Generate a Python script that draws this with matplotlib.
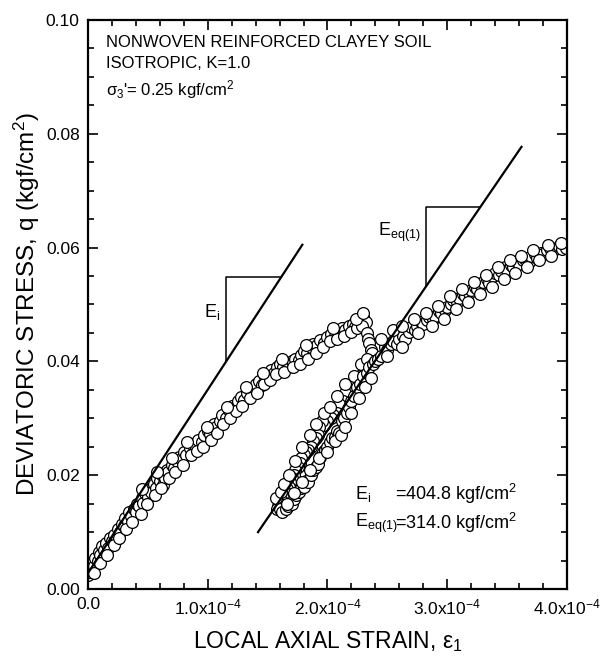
import matplotlib
matplotlib.use("Agg")
import matplotlib.pyplot as plt
from matplotlib.ticker import MultipleLocator, FixedLocator, FixedFormatter

plt.rcParams['font.family'] = ['Liberation Sans', 'DejaVu Sans']
plt.rcParams['mathtext.fontset'] = 'custom'
plt.rcParams['mathtext.rm'] = 'Liberation Sans'
plt.rcParams['mathtext.it'] = 'Liberation Sans'

# strain values are in units of 1e-4
load_x = [0.00, 0.01, 0.02, 0.03, 0.05, 0.06, 0.08, 0.09, 0.10, 0.12, 0.13, 0.15, 0.17, 0.18,
          0.20, 0.22, 0.24, 0.25, 0.27, 0.28, 0.30, 0.31, 0.33, 0.34, 0.36, 0.38, 0.40, 0.41,
          0.43, 0.45, 0.46, 0.48, 0.50, 0.52, 0.53, 0.55, 0.57, 0.58, 0.60, 0.62, 0.63, 0.64,
          0.66, 0.67, 0.70, 0.72, 0.74, 0.76, 0.78, 0.80, 0.82, 0.85, 0.87, 0.90, 0.92, 0.95,
          0.97, 1.00, 1.02, 1.05, 1.07, 1.10, 1.12, 1.15, 1.18, 1.20, 1.22, 1.25, 1.28, 1.30,
          1.33, 1.36, 1.38, 1.40, 1.43, 1.45, 1.48, 1.50, 1.53, 1.55, 1.58, 1.60, 1.63, 1.66,
          1.68, 1.70, 1.73, 1.76, 1.78, 1.80, 1.83, 1.86, 1.88, 1.91, 1.94, 1.97, 2.00, 2.03,
          2.06, 2.09, 2.12, 2.15, 2.18, 2.21, 2.23, 2.26, 2.28, 2.30, 2.32,
          0.05, 0.10, 0.16, 0.22, 0.26, 0.32, 0.37, 0.44, 0.49, 0.56, 0.61, 0.68, 0.73, 0.79,
          0.86, 0.91, 0.96, 1.03, 1.08, 1.13, 1.19, 1.24, 1.29, 1.35, 1.41, 1.47, 1.52, 1.57,
          1.64, 1.71, 1.77, 1.84, 1.90, 1.96, 2.02, 2.08, 2.14, 2.20, 2.25, 2.29,
          0.45, 0.58, 0.70, 0.83, 0.99, 1.16, 1.32, 1.46, 1.62, 1.82, 2.05, 2.24, 2.30]
load_q = [0.0025, 0.0035, 0.0030, 0.0045, 0.0040, 0.0055, 0.0050, 0.0065, 0.0060, 0.0075, 0.0068,
          0.0080, 0.0072, 0.0090, 0.0085, 0.0095, 0.0088, 0.0105, 0.0100, 0.0115, 0.0110, 0.0125,
          0.0120, 0.0135, 0.0128, 0.0140, 0.0135, 0.0150, 0.0145, 0.0160, 0.0152, 0.0168, 0.0162,
          0.0175, 0.0170, 0.0185, 0.0178, 0.0195, 0.0190, 0.0200, 0.0183, 0.0195, 0.0210, 0.0205,
          0.0218, 0.0212, 0.0225, 0.0232, 0.0228, 0.0240, 0.0236, 0.0248, 0.0255, 0.0250, 0.0262,
          0.0258, 0.0270, 0.0278, 0.0272, 0.0290, 0.0285, 0.0295, 0.0305, 0.0300, 0.0315, 0.0322,
          0.0318, 0.0330, 0.0338, 0.0332, 0.0345, 0.0352, 0.0348, 0.0360, 0.0365, 0.0358, 0.0372,
          0.0378, 0.0385, 0.0380, 0.0390, 0.0395, 0.0390, 0.0398, 0.0392, 0.0400, 0.0405, 0.0402,
          0.0412, 0.0418, 0.0415, 0.0425, 0.0430, 0.0428, 0.0438, 0.0432, 0.0442, 0.0448, 0.0445,
          0.0452, 0.0458, 0.0455, 0.0462, 0.0466, 0.0460, 0.0468, 0.0472, 0.0478, 0.0470,
          0.0028, 0.0045, 0.0060, 0.0078, 0.0090, 0.0105, 0.0118, 0.0132, 0.0150, 0.0165, 0.0178,
          0.0195, 0.0205, 0.0218, 0.0235, 0.0242, 0.0250, 0.0262, 0.0275, 0.0290, 0.0300, 0.0312,
          0.0322, 0.0335, 0.0345, 0.0360, 0.0368, 0.0378, 0.0382, 0.0390, 0.0395, 0.0405, 0.0415,
          0.0425, 0.0435, 0.0440, 0.0445, 0.0452, 0.0458, 0.0462,
          0.0175, 0.0205, 0.0230, 0.0258, 0.0285, 0.0320, 0.0355, 0.0380, 0.0405, 0.0428, 0.0458,
          0.0475, 0.0485]

unload_x = [2.33, 2.34, 2.35, 2.36, 2.37, 2.38, 2.30, 2.27, 2.25, 2.22, 2.20, 2.17, 2.15, 2.13,
            2.10, 2.08, 2.05, 2.03, 2.00, 1.97, 1.95, 1.93, 1.92, 1.90, 1.88, 1.86, 1.84, 1.82,
            1.80, 1.78, 1.77, 1.75, 1.73, 1.72, 1.70, 1.69, 1.68, 1.66, 1.65, 1.63, 1.62, 1.60,
            1.59, 1.58,
            1.57, 1.61, 1.64, 1.68, 1.73, 1.79, 1.85, 1.90, 1.97, 2.02, 2.08, 2.15, 2.22, 2.28,
            2.33]
unload_q = [0.0450, 0.0440, 0.0432, 0.0420, 0.0415, 0.0400, 0.0380, 0.0375, 0.0365, 0.0360,
            0.0355, 0.0340, 0.0345, 0.0330, 0.0325, 0.0310, 0.0305, 0.0300, 0.0295, 0.0288,
            0.0295, 0.0285, 0.0270, 0.0265, 0.0260, 0.0250, 0.0245, 0.0240, 0.0235, 0.0230,
            0.0222, 0.0215, 0.0210, 0.0200, 0.0195, 0.0188, 0.0180, 0.0175, 0.0168, 0.0160,
            0.0155, 0.0150, 0.0145, 0.0140,
            0.0160, 0.0170, 0.0185, 0.0200, 0.0225, 0.0250, 0.0270, 0.0290, 0.0310, 0.0320,
            0.0340, 0.0360, 0.0375, 0.0395, 0.0405]

reload_x = [1.60, 1.62, 1.65, 1.67, 1.70, 1.72, 1.74, 1.76, 1.78, 1.80, 1.82, 1.84, 1.86, 1.88,
            1.90, 1.92, 1.94, 1.96, 1.98, 2.00, 2.02, 2.04, 2.06, 2.08, 2.10, 2.12, 2.14, 2.16,
            2.18, 2.20, 2.22, 2.25, 2.27, 2.30, 2.33, 2.35, 2.38, 2.40, 2.42, 2.45, 2.48, 2.50,
            2.53, 2.55, 2.58, 2.60, 2.63, 2.65, 2.68, 2.70, 2.73, 2.75, 2.78, 2.80, 2.83, 2.85,
            2.88, 2.90, 2.93, 2.95, 2.98, 3.00, 3.03, 3.05, 3.08, 3.10, 3.13, 3.15, 3.18, 3.20,
            3.23, 3.25, 3.28, 3.30, 3.33, 3.35, 3.38, 3.40, 3.43, 3.45, 3.48, 3.50, 3.53, 3.55,
            3.58, 3.60, 3.63, 3.65, 3.68, 3.70, 3.73, 3.75, 3.78, 3.80, 3.83, 3.86, 3.88, 3.90,
            3.93, 3.96, 3.99,
            1.66, 1.72, 1.79, 1.85, 1.93, 2.00, 2.06, 2.11, 2.15, 2.20, 2.26, 2.31, 2.36,
            2.45, 2.55, 2.62, 2.72, 2.82, 2.92, 3.02, 3.12, 3.22, 3.32, 3.42, 3.52, 3.62, 3.72,
            3.84, 3.95,
            2.50, 2.62, 2.76, 2.87, 2.97, 3.07, 3.17, 3.27, 3.37, 3.47, 3.57, 3.67, 3.77, 3.87]
reload_q = [0.0140, 0.0135, 0.0140, 0.0145, 0.0150, 0.0158, 0.0165, 0.0170, 0.0178, 0.0180,
            0.0190, 0.0188, 0.0200, 0.0210, 0.0215, 0.0220, 0.0232, 0.0240, 0.0245, 0.0250,
            0.0258, 0.0265, 0.0268, 0.0278, 0.0275, 0.0295, 0.0300, 0.0310, 0.0320, 0.0330,
            0.0340, 0.0355, 0.0360, 0.0375, 0.0380, 0.0390, 0.0395, 0.0400, 0.0405, 0.0410,
            0.0425, 0.0420, 0.0430, 0.0435, 0.0430, 0.0440, 0.0445, 0.0440, 0.0452, 0.0460,
            0.0455, 0.0462, 0.0470, 0.0465, 0.0472, 0.0478, 0.0475, 0.0480, 0.0488, 0.0485,
            0.0490, 0.0495, 0.0500, 0.0508, 0.0505, 0.0512, 0.0518, 0.0515, 0.0520, 0.0525,
            0.0530, 0.0528, 0.0535, 0.0540, 0.0545, 0.0538, 0.0550, 0.0555, 0.0552, 0.0558,
            0.0565, 0.0560, 0.0570, 0.0565, 0.0575, 0.0572, 0.0578, 0.0580, 0.0575, 0.0585,
            0.0588, 0.0582, 0.0590, 0.0588, 0.0595, 0.0600, 0.0595, 0.0598, 0.0602, 0.0598,
            0.0600,
            0.0150, 0.0168, 0.0188, 0.0210, 0.0230, 0.0240, 0.0260, 0.0270, 0.0285, 0.0310,
            0.0335, 0.0355, 0.0370,
            0.0440, 0.0455, 0.0462, 0.0475, 0.0485, 0.0498, 0.0515, 0.0528, 0.0540, 0.0552,
            0.0565, 0.0578, 0.0585, 0.0595, 0.0605, 0.0608,
            0.0410, 0.0425, 0.0450, 0.0462, 0.0475, 0.0492, 0.0505, 0.0518, 0.0530, 0.0545,
            0.0555, 0.0565, 0.0578, 0.0585]

# modulus lines and slope triangles
ei_line_x = [0.00, 1.79]
ei_line_q = [0.0028, 0.0605]
eeq_line_x = [1.42, 3.62]
eeq_line_q = [0.0100, 0.0777]
ei_tri_x = [1.152, 1.152, 1.612]
ei_tri_q = [0.0400, 0.0548, 0.0548]
eeq_tri_x = [2.823, 2.823, 3.272]
eeq_tri_q = [0.0533, 0.0671, 0.0671]

x_ticks = [0, 1, 2, 3, 4]
x_tick_labels = ['0.0', r'1.0x10$^{-4}$', r'2.0x10$^{-4}$', r'3.0x10$^{-4}$', r'4.0x10$^{-4}$']
y_ticks = [0.00, 0.02, 0.04, 0.06, 0.08, 0.10]

S = 1e-4
fig = plt.figure(figsize=(6.09, 6.57), dpi=100)
ax = fig.add_axes([0.1445, 0.1035, 0.7865, 0.8661])

mk = dict(marker='o', ms=8.5, mfc='white', mec='black', mew=0.9, ls='none', zorder=2)
ax.plot([v * S for v in load_x], load_q, **mk)
ax.plot([v * S for v in unload_x], unload_q, **mk)
ax.plot([v * S for v in reload_x], reload_q, **mk)

lk = dict(color='black', lw=1.6, zorder=3)
ax.plot([v * S for v in ei_line_x], ei_line_q, **lk)
ax.plot([v * S for v in eeq_line_x], eeq_line_q, **lk)
ax.plot([v * S for v in ei_tri_x], ei_tri_q, color='black', lw=1.1, zorder=3)
ax.plot([v * S for v in eeq_tri_x], eeq_tri_q, color='black', lw=1.1, zorder=3)

ax.set_xlim(0, 4e-4)
ax.set_ylim(0, 0.10)
ax.xaxis.set_major_locator(FixedLocator([v * S for v in x_ticks]))
ax.xaxis.set_major_formatter(FixedFormatter(x_tick_labels))
ax.xaxis.set_minor_locator(MultipleLocator(0.2e-4))
ax.set_yticks(y_ticks)
ax.set_yticklabels(['%.2f' % v for v in y_ticks])
ax.yaxis.set_minor_locator(MultipleLocator(0.005))
ax.tick_params(which='both', direction='in', top=True, right=True, width=1.2, labelsize=12.5)
ax.tick_params(which='major', length=7, pad=6)
ax.tick_params(which='minor', length=4)
for sp in ax.spines.values():
    sp.set_linewidth(1.6)

ax.set_xlabel('LOCAL AXIAL STRAIN, ε$_1$', fontsize=16.5)
ax.set_ylabel('DEVIATORIC STRESS, q (kgf/cm$^2$)', fontsize=17.5)
ax.xaxis.set_label_coords(0.5, -0.07)
ax.yaxis.set_label_coords(-0.096, 0.5)

fs = 12
ax.text(0.15 * S, 0.0961, 'NONWOVEN REINFORCED CLAYEY SOIL', fontsize=fs, va='center')
ax.text(0.15 * S, 0.0924, 'ISOTROPIC, K=1.0', fontsize=fs, va='center')
ax.text(0.15 * S, 0.0877, "σ$_3$'= 0.25 kgf/cm$^2$", fontsize=fs, va='center')

ax.text(1.035 * S, 0.0487, r'E$_\mathregular{i}$', fontsize=fs + 1, va='center', ha='center')
ax.text(2.42 * S, 0.0627, r'E$_\mathregular{eq(1)}$', fontsize=fs + 1, va='center')

fs2 = 13
ax.text(2.23 * S, 0.0167, r'E$_\mathregular{i}$', fontsize=fs2, va='center')
ax.text(2.565 * S, 0.0167, '=404.8 kgf/cm$^2$', fontsize=fs2, va='center')
ax.text(2.23 * S, 0.0116, r'E$_\mathregular{eq(1)}$', fontsize=fs2, va='center')
ax.text(2.565 * S, 0.0116, '=314.0 kgf/cm$^2$', fontsize=fs2, va='center')

fig.savefig('out.png', dpi=100)
